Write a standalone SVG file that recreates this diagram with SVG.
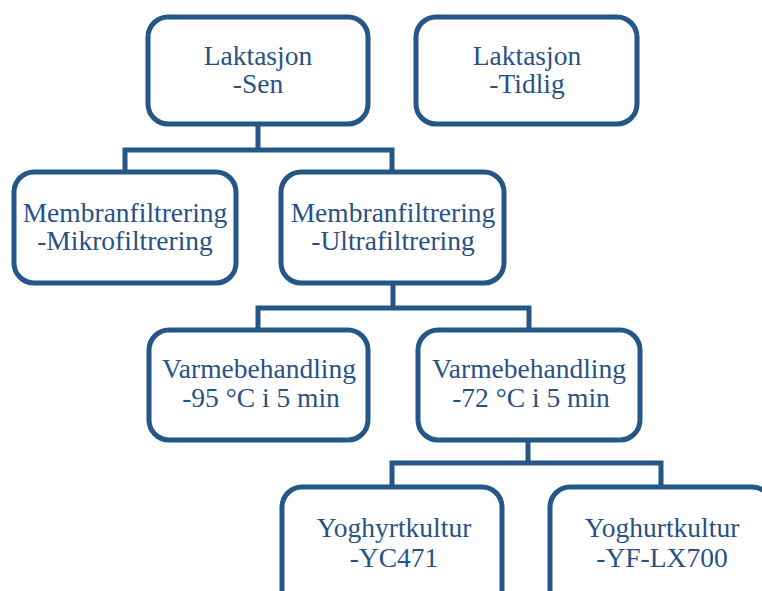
<svg xmlns="http://www.w3.org/2000/svg" width="762" height="591" viewBox="0 0 762 591">
<style>
.box{fill:#ffffff;stroke:#245688;stroke-width:5}
.c{fill:none;stroke:#245688;stroke-width:5;stroke-linejoin:miter}
text{font-family:"Liberation Serif","Times New Roman",serif;font-size:27.5px;fill:#2A5185;text-anchor:middle}
</style>
<rect width="762" height="591" fill="#ffffff"/>
<g id="connectors">
<path class="c" d="M258,124 V150 M125,172 V150 H392 V172"/>
<path class="c" d="M393,283 V308 M258,330 V308 H529 V330"/>
<path class="c" d="M528,440 V463 M392,487 V463 H661 V487"/>
</g>
<g id="n1"><rect class="box" x="148" y="17" width="220" height="107" rx="20"/><text x="258" y="65">Laktasjon</text><text x="258" y="93">-Sen</text></g>
<g id="n2"><rect class="box" x="416" y="17" width="221" height="107" rx="20"/><text x="527" y="65">Laktasjon</text><text x="527" y="93">-Tidlig</text></g>
<g id="n3"><rect class="box" x="14" y="172" width="222" height="111" rx="20"/><text x="125" y="222">Membranfiltrering</text><text x="125" y="250">-Mikrofiltrering</text></g>
<g id="n4"><rect class="box" x="281" y="172" width="223" height="111" rx="20"/><text x="393" y="222">Membranfiltrering</text><text x="393" y="250">-Ultrafiltrering</text></g>
<g id="n5"><rect class="box" x="149" y="330" width="219" height="110" rx="20"/><text x="259" y="378">Varmebehandling</text><text x="261" y="407">-95 °C i 5 min</text></g>
<g id="n6"><rect class="box" x="418" y="330" width="222" height="110" rx="20"/><text x="529" y="378">Varmebehandling</text><text x="531" y="407">-72 °C i 5 min</text></g>
<g id="n7"><rect class="box" x="282" y="487" width="220" height="130" rx="20"/><text x="394" y="537">Yoghyrtkultur</text><text x="394" y="567">-YC471</text></g>
<g id="n8"><rect class="box" x="550" y="487" width="222" height="130" rx="20"/><text x="662" y="537">Yoghurtkultur</text><text x="662" y="567">-YF-LX700</text></g>
</svg>
